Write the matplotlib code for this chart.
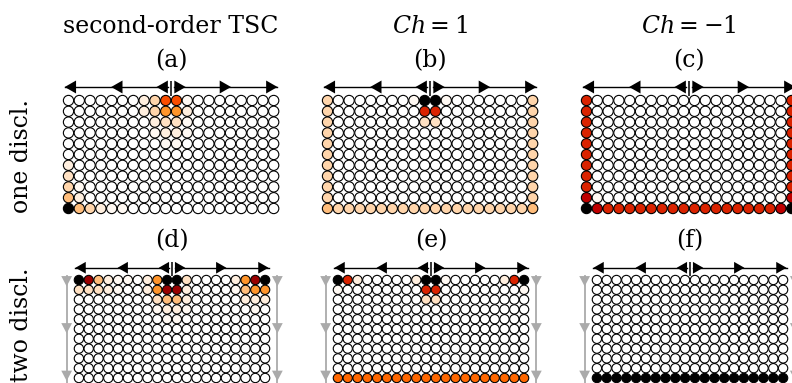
import numpy as np
import matplotlib
matplotlib.use("Agg")
from matplotlib import pyplot as plt
from matplotlib.patches import Polygon

plt.rcParams["font.family"] = ["DejaVu Serif"]
plt.rcParams["mathtext.fontset"] = "dejavuserif"

# colour level per character (0 = white, 1 = black on gist_heat_r)
LEVELS = {".": 0.0, "1": 0.015, "2": 0.035, "3": 0.06, "4": 0.085, "5": 0.13,
          "6": 0.21, "o": 0.3, "7": 0.35, "8": 0.43, "r": 0.5, "9": 0.6, "k": 1.0}

col_titles = ["second-order TSC", "$Ch = 1$", "$Ch = -1$"]
row_titles = ["one discl.", "two discl."]
panel_tags = ["(a)", "(b)", "(c)", "(d)", "(e)", "(f)"]

grid_a = [".......24771........",
          ".......24662........",
          "........2331........",
          "........1221........",
          ".........11.........",
          "....................",
          "2...................",
          "3...................",
          "41..................",
          "52..................",
          "k54211.............."]

grid_b = ["4.......1kk1.......4",
          "4........88........4",
          "4........33........4"] + ["4..................4"] * 7 + \
         ["5" + "4" * 18 + "5"]

grid_c = ["8..................8"] * 9 + \
         ["r1................1r",
          "kr" + "8" * 16 + "rk"]

grid_d = ["k95211.26kk3....269k",
          "33321..26992....1566",
          "........3552.....222",
          "........1221......1.",
          ".........11........."] + ["...................."] * 6

grid_e = ["k82.....2kk1.....28k",
          "1........88........1",
          ".........33........."] + ["...................."] * 7 + \
         ["o" * 20]

grid_f = ["...................."] * 10 + ["k" * 20]

grids = [grid_a, grid_b, grid_c, grid_d, grid_e, grid_f]

W, H = 792, 383
fig = plt.figure(figsize=(W / 100, H / 100), dpi=100)
cmap = plt.get_cmap("gist_heat_r")
FS = 17


def px_axes(x0, y0, s):
    # axes whose data units are lattice sites, col 0 / row 0 centred at (x0, y0) px
    xl, xr, yt, yb = -2.5, 22.5, -2.5, 11.5
    L = x0 + xl * s
    R = x0 + xr * s
    T = y0 + yt * s
    B = y0 + yb * s
    ax = fig.add_axes([L / W, 1 - B / H, (R - L) / W, (B - T) / H])
    ax.set_xlim(xl, xr)
    ax.set_ylim(yb, yt)
    ax.axis("off")
    return ax


def h_arrows(ax, ncol):
    c = (ncol - 1) / 2
    y = -1.25
    tl, hw = 1.05, 0.6
    ax.plot([c - 9.85, c - 0.3], [y, y], color="black", lw=1.0)
    ax.plot([c + 0.3, c + 9.85], [y, y], color="black", lw=1.0)
    for d in [1.35, 5.55, 9.85]:
        t = c - d
        ax.add_patch(Polygon([(t, y), (t + tl, y - hw), (t + tl, y + hw)],
                             closed=True, color="black", lw=0))
        t = c + d
        ax.add_patch(Polygon([(t, y), (t - tl, y - hw), (t - tl, y + hw)],
                             closed=True, color="black", lw=0))
    ax.plot([c, c], [-1.85, -0.45], color="black", lw=1.1, solid_capstyle="butt")


def v_arrows(ax, ncol):
    grey = "#aaaaaa"
    for x in [-1.25, ncol - 1 + 1.25]:
        ax.plot([x, x], [-0.4, 11.5], color=grey, lw=1.3, clip_on=False)
        for tip in [0.65, 5.45, 10.3]:
            ax.add_patch(Polygon([(x - 0.55, tip - 1.05), (x + 0.55, tip - 1.05), (x, tip)],
                                 closed=True, color=grey, lw=0))


for k, grid in enumerate(grids):
    top = k < 3
    s = 10.8 if top else 9.8
    x0 = (68.5 if top else 78.9) + 259 * (k % 3)
    y0 = 100.5 if top else 280.0
    ax = px_axes(x0, y0, s)
    vals = np.array([[LEVELS[ch] for ch in row] for row in grid])
    nrow, ncol = vals.shape
    cc, rr = np.meshgrid(np.arange(ncol), np.arange(nrow))
    d_pt = 0.95 * s * 0.72
    ax.scatter(cc.ravel(), rr.ravel(), s=d_pt ** 2, c=vals.ravel(), cmap=cmap,
               vmin=0, vmax=1, edgecolors="black", linewidths=0.8, zorder=3)
    h_arrows(ax, ncol)
    if not top:
        v_arrows(ax, ncol)
    cx = x0 + (ncol - 1) / 2 * s
    ty = 61 if top else 241
    fig.text(cx / W, 1 - ty / H, panel_tags[k], ha="center", va="center", fontsize=FS)
    if top:
        fig.text(cx / W, 1 - 33 / H, col_titles[k], ha="center", va="baseline", fontsize=FS)

fig.text(22 / W, 1 - 156 / H, row_titles[0], rotation=90, ha="center", va="center", fontsize=FS)
fig.text(22 / W, 1 - 325 / H, row_titles[1], rotation=90, ha="center", va="center", fontsize=FS)

fig.savefig("out.png", dpi=100)
